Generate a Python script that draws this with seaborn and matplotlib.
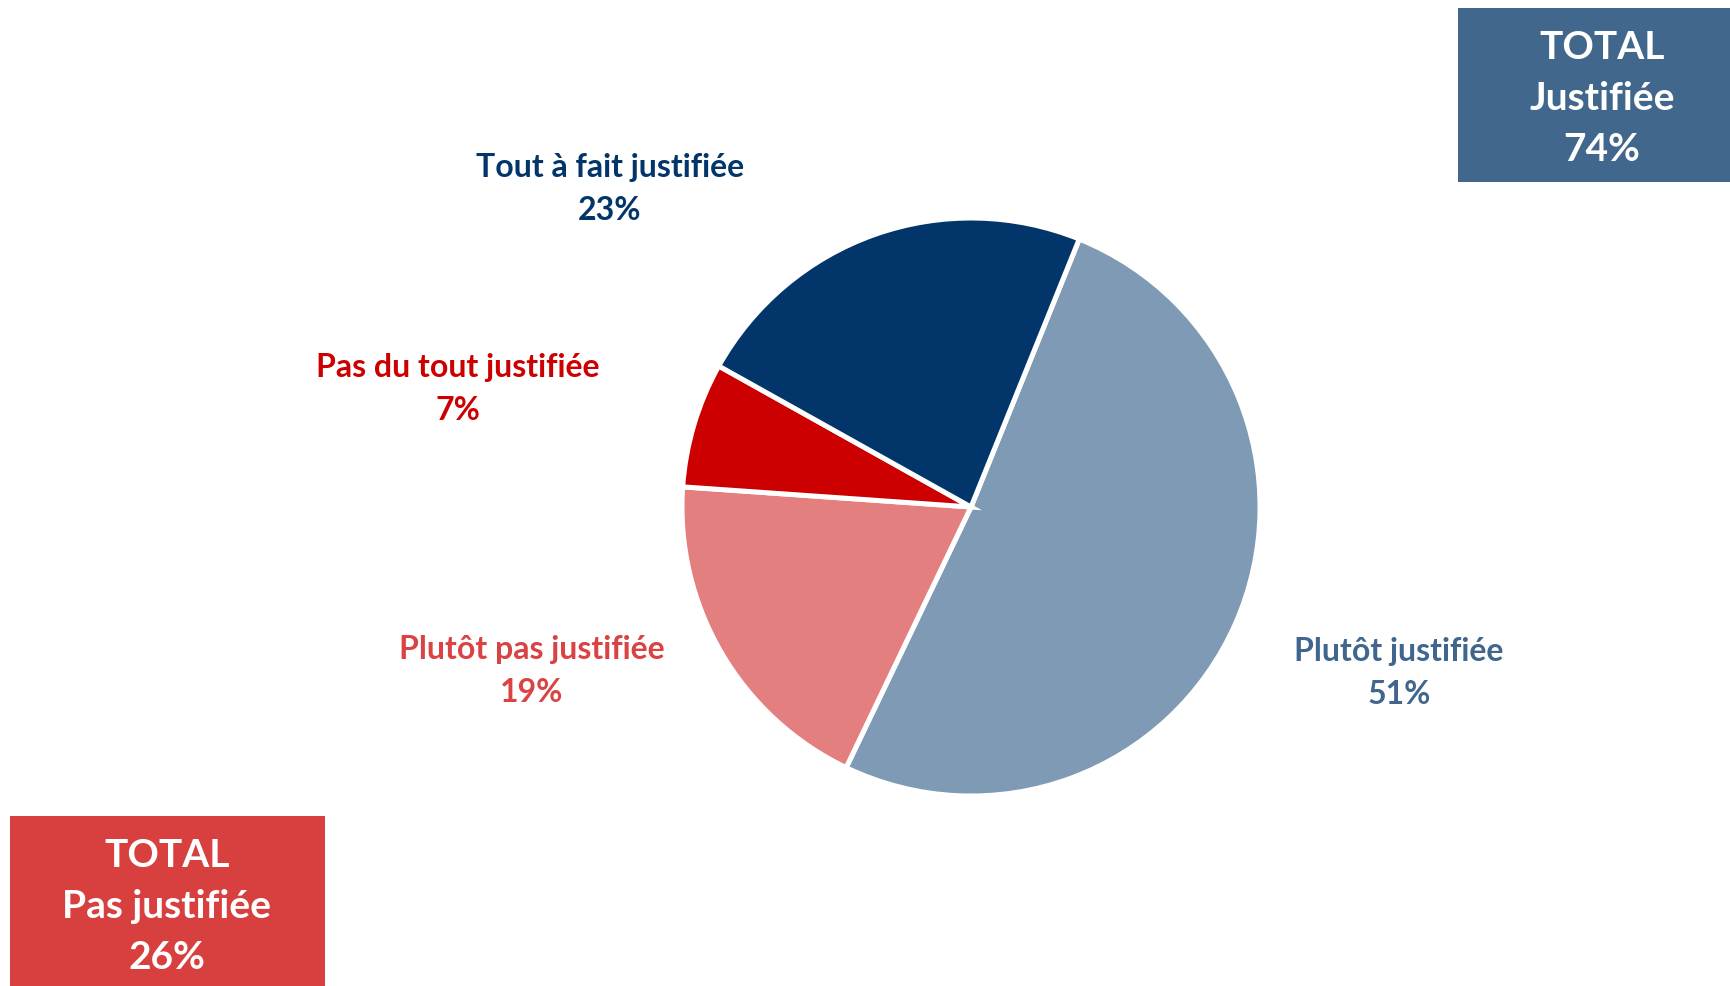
import matplotlib
matplotlib.use("Agg")
import matplotlib.pyplot as plt
from matplotlib.patches import Rectangle
import seaborn as sns

# Survey answers, in clockwise order starting from the top-right slice
categories = ["Plutôt justifiée", "Plutôt pas justifiée", "Pas du tout justifiée", "Tout à fait justifiée"]
values = [51, 19, 7, 23]
slice_colors = ["#7F9AB4", "#E37F7F", "#CC0000", "#02356A"]
label_colors = ["#41668D", "#D94343", "#CC0000", "#02356A"]

total_labels = ["TOTAL\nJustifiée", "TOTAL\nPas justifiée"]
total_values = [74, 26]
total_colors = ["#41688C", "#D84040"]

sns.set_theme(style="white")
plt.rcParams["font.family"] = ["Lato", "DejaVu Sans"]

W, H = 1731, 987
fig = plt.figure(figsize=(W / 100, H / 100), dpi=100)
ax = fig.add_axes([0, 0, 1, 1])

cx, cy, r = 971, H - 508, 289
ax.pie(
    values,
    colors=slice_colors,
    startangle=68,
    counterclock=False,
    explode=[0.03, 0, 0, 0],
    center=(cx, cy),
    radius=r,
    wedgeprops=dict(edgecolor="white", linewidth=3.6),
    frame=True,
)
ax.set_xlim(0, W)
ax.set_ylim(0, H)
ax.set_aspect("equal")
ax.axis("off")

# Category labels around the pie
label_pos = [(1399, 652), (532, 650), (458, 368), (610, 168)]
for name, val, col, (x, y) in zip(categories, values, label_colors, label_pos):
    ax.text(x, H - y, name, ha="center", va="center", fontsize=23,
            fontweight="bold", color=col)
    ax.text(x, H - y - 43, f"{val}%", ha="center", va="center", fontsize=23,
            fontweight="bold", color=col)

# Summary boxes: rectangle and the x position of its centred text
boxes = [(1458, 9, 273, 174, 1602), (10, 817, 315, 170, 167)]
for (x, y, w, h, tx), lab, val, col in zip(boxes, total_labels, total_values, total_colors):
    ax.add_patch(Rectangle((x, H - y - h), w, h, facecolor=col, edgecolor="none"))
    lines = lab.split("\n") + [f"{val}%"]
    top = y + 39
    for i, line in enumerate(lines):
        ax.text(tx, H - (top + i * 51), line, ha="center", va="center",
                fontsize=28, fontweight="bold", color="white")

fig.savefig("out.png", dpi=100, facecolor="white")
